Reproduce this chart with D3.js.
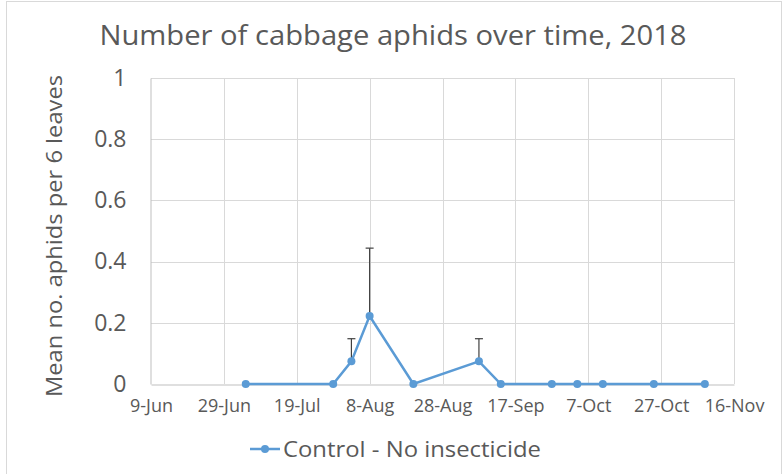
<!doctype html>
<html>
<head>
<script src="https://d3js.org/d3.v7.min.js"></script>
<style>
  body { margin: 0; background: #fff; }
  text { font-family: "Open Sans", "Noto Sans", sans-serif; fill: #595959; }
</style>
</head>
<body>
<svg id="chart" width="784" height="474"></svg>
<script>
// data (2018)
var dates = ["2018-07-05", "2018-07-29", "2018-08-03", "2018-08-08", "2018-08-20", "2018-09-07",
             "2018-09-13", "2018-09-27", "2018-10-04", "2018-10-11", "2018-10-25", "2018-11-08"];
var means = [0, 0, 0.074, 0.222, 0, 0.074, 0, 0, 0, 0, 0, 0];
var errors = [0, 0, 0.074, 0.222, 0, 0.074, 0, 0, 0, 0, 0, 0];
var xTickDates = ["2018-06-09", "2018-06-29", "2018-07-19", "2018-08-08", "2018-08-28",
                  "2018-09-17", "2018-10-07", "2018-10-27", "2018-11-16"];
var yTicks = [0, 0.2, 0.4, 0.6, 0.8, 1];
var seriesName = "Control - No insecticide";

var parse = d3.timeParse("%Y-%m-%d");
var fmt = d3.timeFormat("%-d-%b");
var data = dates.map(function(d, i) { return { date: parse(d), v: means[i], e: errors[i] }; });

var svg = d3.select("#chart");
var plotLeft = 151, plotRight = 734, plotTop = 78, plotBottom = 384;

// chart border
svg.append("rect")
   .attr("x", 6.5).attr("y", 1.5).attr("width", 775).attr("height", 480)
   .attr("fill", "none").attr("stroke", "#d9d9d9");

var x = d3.scaleTime().domain([parse(xTickDates[0]), parse(xTickDates[xTickDates.length - 1])]).range([plotLeft, plotRight]);
var y = d3.scaleLinear().domain([0, 1]).range([plotBottom, plotTop]);

// gridlines
svg.append("g").selectAll("line").data(yTicks.slice(1)).enter().append("line")
   .attr("x1", plotLeft).attr("x2", plotRight)
   .attr("y1", function(d) { return Math.round(y(d)) + 0.5; })
   .attr("y2", function(d) { return Math.round(y(d)) + 0.5; })
   .attr("stroke", "#d9d9d9").attr("stroke-width", 1);
svg.append("g").selectAll("line").data(xTickDates.slice(1)).enter().append("line")
   .attr("x1", function(d) { return Math.round(x(parse(d))) + 0.5; })
   .attr("x2", function(d) { return Math.round(x(parse(d))) + 0.5; })
   .attr("y1", plotTop).attr("y2", plotBottom)
   .attr("stroke", "#d9d9d9").attr("stroke-width", 1);

// axes
var xAxis = svg.append("g")
   .attr("transform", "translate(0," + (plotBottom + 0.5) + ")")
   .call(d3.axisBottom(x).tickValues(xTickDates.map(parse)).tickFormat(fmt).tickSize(0).tickPadding(15));
xAxis.select(".domain").attr("stroke", "#bfbfbf");
xAxis.selectAll("text").attr("font-size", "18px").attr("fill", "#595959")
     .attr("font-family", "'Open Sans', sans-serif");

var yAxis = svg.append("g")
   .attr("transform", "translate(" + (plotLeft - 0.5) + ",0)")
   .call(d3.axisLeft(y).tickValues(yTicks).tickFormat(d3.format("")).tickSize(0).tickPadding(24));
yAxis.select(".domain").attr("stroke", "#bfbfbf");
yAxis.selectAll("text").attr("font-size", "23px").attr("fill", "#595959")
     .attr("font-family", "'Open Sans', sans-serif");

// error bars (plus only)
var eb = svg.append("g").selectAll("g").data(data.filter(function(d) { return d.e > 0; })).enter().append("g");
eb.append("line")
  .attr("x1", function(d) { return x(d.date); }).attr("x2", function(d) { return x(d.date); })
  .attr("y1", function(d) { return y(d.v); }).attr("y2", function(d) { return y(d.v + d.e); })
  .attr("stroke", "#404040").attr("stroke-width", 1.2);
eb.append("line")
  .attr("x1", function(d) { return x(d.date) - 4; }).attr("x2", function(d) { return x(d.date) + 4; })
  .attr("y1", function(d) { return y(d.v + d.e); }).attr("y2", function(d) { return y(d.v + d.e); })
  .attr("stroke", "#404040").attr("stroke-width", 1.2);

// series line
var blue = "#5b9bd5";
svg.append("path").datum(data)
   .attr("d", d3.line().x(function(d) { return x(d.date); }).y(function(d) { return y(d.v); }))
   .attr("fill", "none").attr("stroke", blue).attr("stroke-width", 2.5);
svg.append("g").selectAll("circle").data(data).enter().append("circle")
   .attr("cx", function(d) { return x(d.date); }).attr("cy", function(d) { return y(d.v); })
   .attr("r", 4).attr("fill", blue);

// title
svg.append("text")
   .attr("x", 393).attr("y", 45)
   .attr("text-anchor", "middle")
   .attr("font-size", "28px")
   .attr("textLength", 587).attr("lengthAdjust", "spacingAndGlyphs")
   .text("Number of cabbage aphids over time, 2018");

// y axis title
svg.append("text")
   .attr("transform", "translate(62,236) rotate(-90)")
   .attr("text-anchor", "middle")
   .attr("font-size", "22px")
   .attr("textLength", 322).attr("lengthAdjust", "spacingAndGlyphs")
   .text("Mean no. aphids per 6 leaves");

// legend
var lg = svg.append("g");
lg.append("line").attr("x1", 250).attr("x2", 280).attr("y1", 449).attr("y2", 449)
  .attr("stroke", blue).attr("stroke-width", 2.5);
lg.append("circle").attr("cx", 265).attr("cy", 449).attr("r", 4).attr("fill", blue);
lg.append("text").attr("x", 283).attr("y", 457).attr("font-size", "22px")
  .attr("textLength", 258).attr("lengthAdjust", "spacingAndGlyphs")
  .text(seriesName);
</script>
</body>
</html>
